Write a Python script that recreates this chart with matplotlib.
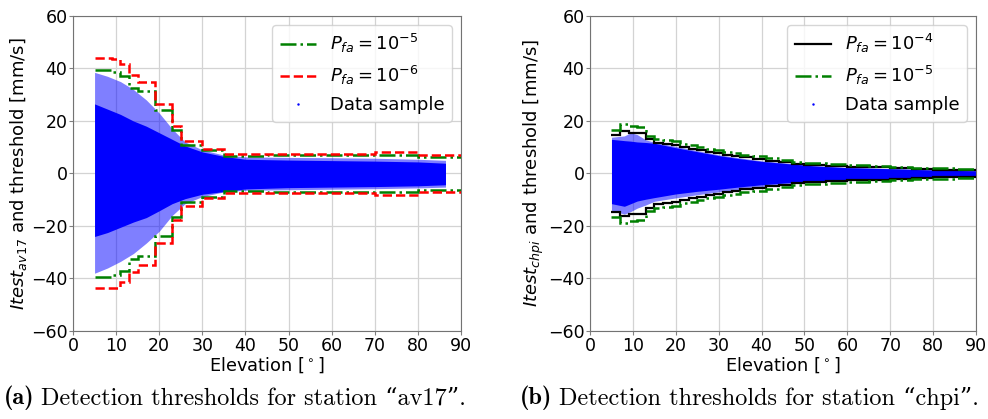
import matplotlib
matplotlib.use("Agg")
import matplotlib.pyplot as plt
from matplotlib.lines import Line2D

# ---- station av17 (left) ----
av17_edges = [5, 9, 11, 13, 15, 19, 23, 25, 30, 35, 45, 60, 70, 80, 90]
av17_pfa5 = [39.5, 38.8, 37.0, 32.5, 31.3, 24.0, 16.5, 11.0, 8.8, 6.8, 6.9, 7.0, 7.2, 6.4]
av17_pfa6 = [43.8, 43.5, 41.5, 37.5, 34.8, 26.4, 17.9, 12.3, 9.4, 7.4, 7.5, 7.5, 8.1, 7.1]

# envelope of the data cloud (dense core and sparse outliers)
av17_elev = [5, 8, 11, 14, 17, 20, 23, 26, 30, 35, 40, 50, 60, 70, 80, 86.4]
av17_core_up = [26.5, 24.5, 22.5, 20.0, 18.0, 15.5, 13.0, 10.5, 8.2, 6.5, 5.4, 5.1, 4.9, 4.7, 4.4, 3.9]
av17_core_lo = [-24.0, -22.5, -20.5, -18.5, -16.8, -14.2, -11.5, -9.6, -7.9, -6.9, -5.9, -5.4, -5.2, -5.0, -4.7, -4.3]
av17_out_up = [38.5, 37.0, 35.0, 32.0, 28.0, 23.0, 17.0, 12.0, 9.0, 7.0, 6.3, 6.1, 6.0, 5.8, 5.4, 5.0]
av17_out_lo = [-38.0, -36.0, -33.5, -30.5, -26.5, -22.0, -16.0, -11.5, -8.8, -7.0, -6.4, -6.2, -6.0, -5.8, -5.5, -5.2]

# ---- station chpi (right) ----
chpi_edges = [5, 7, 9, 11, 13, 15, 17, 19, 21, 23, 25, 27, 29, 31, 33, 35,
              38, 41, 44, 47, 50, 55, 60, 65, 70, 75, 80, 85, 90]
chpi_pfa4 = [14.6, 16.3, 15.6, 15.3, 13.2, 11.5, 11.3, 11.0, 10.0, 9.4, 8.8, 8.2, 7.7, 7.1,
             6.6, 6.1, 5.5, 4.9, 4.3, 3.6, 3.2, 2.9, 2.6, 2.3, 2.0, 1.7, 1.5, 1.3]
chpi_pfa5 = [16.6, 18.8, 18.0, 17.8, 14.4, 13.0, 12.8, 12.4, 11.4, 10.8, 10.1, 9.5, 8.9, 8.3,
             7.8, 7.2, 6.5, 5.8, 5.1, 4.3, 3.9, 3.5, 3.2, 2.8, 2.5, 2.2, 2.0, 1.8]

chpi_elev = [5, 8, 9.5, 11, 13, 15, 20, 25, 30, 35, 40, 47, 52, 60, 70, 80, 90]
chpi_core_up = [13.0, 12.5, 12.3, 12.0, 11.8, 11.5, 9.8, 8.3, 6.8, 5.6, 4.6, 3.6, 2.9, 2.2, 1.8, 1.3, 1.0]
chpi_core_lo = [-11.5, -12.5, -11.5, -10.5, -9.8, -9.2, -7.8, -6.8, -6.0, -5.1, -4.3, -3.4, -2.9, -2.3, -1.9, -1.5, -1.2]
chpi_out_up = [13.8, 14.3, 15.5, 14.8, 12.8, 11.9, 10.3, 8.7, 7.1, 5.9, 4.8, 3.8, 3.0, 2.3, 1.9, 1.4, 1.2]
chpi_out_lo = [-14.0, -15.5, -14.5, -13.2, -12.0, -10.6, -9.3, -8.1, -7.0, -6.0, -5.0, -3.9, -3.2, -2.5, -2.0, -1.6, -1.3]

xticks = [0, 10, 20, 30, 40, 50, 60, 70, 80, 90]
yticks = [-60, -40, -20, 0, 20, 40, 60]

fig = plt.figure(figsize=(9.88, 4.19), dpi=100)
ax1 = fig.add_axes([0.0739, 0.210, 0.3927, 0.752])
ax2 = fig.add_axes([0.5972, 0.210, 0.3907, 0.752])


def draw_cloud(ax, elev, out_lo, out_up, core_lo, core_up):
    ax.fill_between(elev, out_lo, out_up, color='#0000ff', alpha=0.5, lw=0, zorder=2)
    ax.fill_between(elev, core_lo, core_up, color='#0000ff', lw=0, zorder=2)


def stair(ax, edges, vals, **kw):
    ax.stairs(vals, edges, baseline=None, zorder=3, **kw)
    ax.stairs([-v for v in vals], edges, baseline=None, zorder=3, **kw)


# left panel
draw_cloud(ax1, av17_elev, av17_out_lo, av17_out_up, av17_core_lo, av17_core_up)
stair(ax1, av17_edges, av17_pfa5, color='green', ls='-.', lw=1.8)
stair(ax1, av17_edges, av17_pfa6, color='red', ls='--', lw=1.8)
h1 = [Line2D([], [], color='green', ls='-.', lw=1.8),
      Line2D([], [], color='red', ls='--', lw=1.8),
      Line2D([], [], color='blue', ls='none', marker='.', markersize=1.5)]
l1 = [r'$P_{fa} = 10^{-5}$', r'$P_{fa} = 10^{-6}$', 'Data sample']
ax1.legend(h1, l1, loc='upper right', fontsize=13)
ax1.set_ylabel(r'$Itest_{av17}$ and threshold [mm/s]', fontsize=13, labelpad=1)

# right panel
draw_cloud(ax2, chpi_elev, chpi_out_lo, chpi_out_up, chpi_core_lo, chpi_core_up)
stair(ax2, chpi_edges, chpi_pfa4, color='black', ls='-', lw=1.6)
stair(ax2, chpi_edges, chpi_pfa5, color='green', ls='-.', lw=1.8)
h2 = [Line2D([], [], color='black', ls='-', lw=1.6),
      Line2D([], [], color='green', ls='-.', lw=1.8),
      Line2D([], [], color='blue', ls='none', marker='.', markersize=1.5)]
l2 = [r'$P_{fa} = 10^{-4}$', r'$P_{fa} = 10^{-5}$', 'Data sample']
ax2.legend(h2, l2, loc='upper right', fontsize=13)
ax2.set_ylabel(r'$Itest_{chpi}$ and threshold [mm/s]', fontsize=13, labelpad=1)

for ax in (ax1, ax2):
    ax.set_xlim(0, 90)
    ax.set_ylim(-60, 60)
    ax.set_xticks(xticks)
    ax.set_yticks(yticks)
    ax.tick_params(labelsize=12.5, color='0.5', length=3, pad=1)
    ax.grid(True, color='#d3d3d3', lw=0.9)
    ax.set_axisbelow(True)
    for s in ax.spines.values():
        s.set_color('0.45')
    ax.set_xlabel(r'Elevation [$^\circ$]', fontsize=12.8, labelpad=1)

# captions
renderer = fig.canvas.get_renderer()
cap_size = 17.5
for x0, tag, txt in [(0.004, '(a)', 'Detection thresholds for station \u201cav17\u201d.'),
                     (0.526, '(b)', 'Detection thresholds for station \u201cchpi\u201d.')]:
    t = fig.text(x0, 0.05, tag, fontsize=cap_size, family=['cmb10', 'DejaVu Serif'], va='center')
    bb = t.get_window_extent(renderer)
    fig.text(bb.x1 / fig.bbox.width + 0.007, 0.05, txt, fontsize=cap_size,
             family=['cmr10', 'DejaVu Serif'], va='center')

fig.savefig('out.png', dpi=100)
